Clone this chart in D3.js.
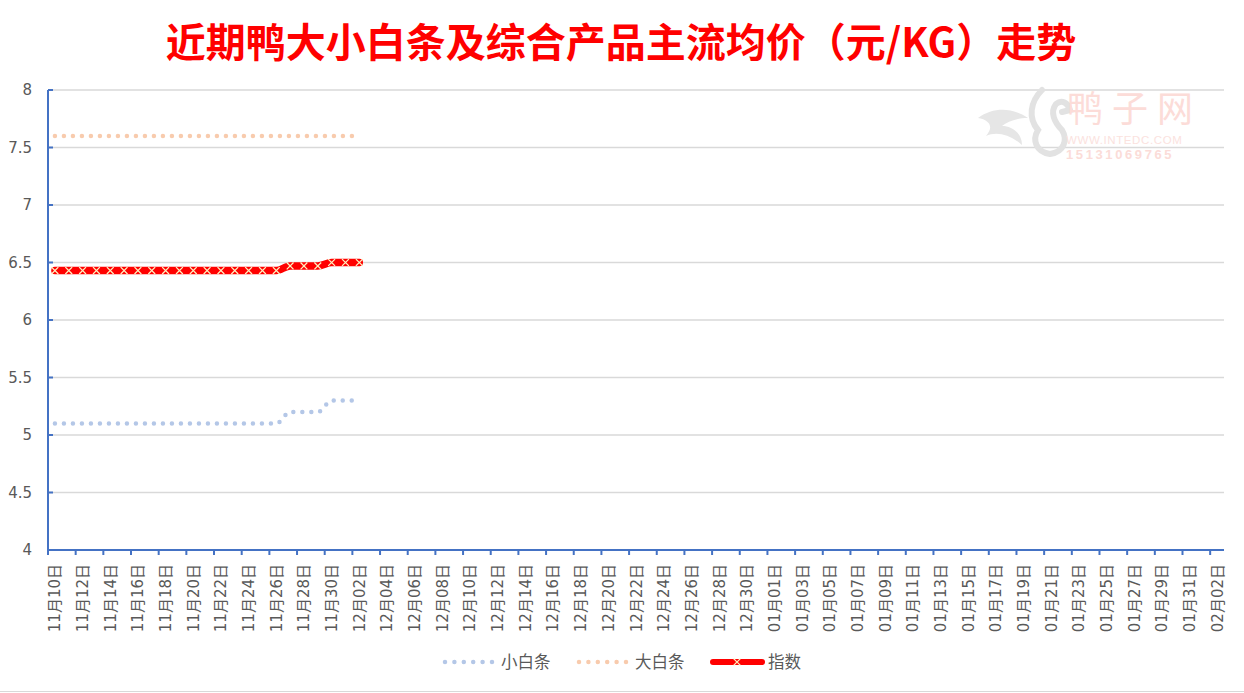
<!DOCTYPE html>
<html><head><meta charset="utf-8">
<script src="https://cdn.jsdelivr.net/npm/d3@7"></script>
<style>
html,body{margin:0;padding:0;background:#fff;}
svg{display:block;font-family:"Noto Sans CJK SC","Noto Sans",sans-serif;}
</style></head>
<body>
<svg id="chart" width="1244" height="693"></svg>
<script>
// ---- data ----
const categories = [
 "11月10日","11月11日","11月12日","11月13日","11月14日","11月15日","11月16日","11月17日","11月18日","11月19日",
 "11月20日","11月21日","11月22日","11月23日","11月24日","11月25日","11月26日","11月27日","11月28日","11月29日","11月30日",
 "12月01日","12月02日","12月03日","12月04日","12月05日","12月06日","12月07日","12月08日","12月09日","12月10日",
 "12月11日","12月12日","12月13日","12月14日","12月15日","12月16日","12月17日","12月18日","12月19日","12月20日",
 "12月21日","12月22日","12月23日","12月24日","12月25日","12月26日","12月27日","12月28日","12月29日","12月30日","12月31日",
 "01月01日","01月02日","01月03日","01月04日","01月05日","01月06日","01月07日","01月08日","01月09日","01月10日",
 "01月11日","01月12日","01月13日","01月14日","01月15日","01月16日","01月17日","01月18日","01月19日","01月20日",
 "01月21日","01月22日","01月23日","01月24日","01月25日","01月26日","01月27日","01月28日","01月29日","01月30日","01月31日",
 "02月01日","02月02日"
];
const xiaoBaiTiao = [5.1,5.1,5.1,5.1,5.1,5.1,5.1,5.1,5.1,5.1,5.1,5.1,5.1,5.1,5.1,5.1,5.1,5.2,5.2,5.2,5.3,5.3,5.3];
const daBaiTiao   = [7.6,7.6,7.6,7.6,7.6,7.6,7.6,7.6,7.6,7.6,7.6,7.6,7.6,7.6,7.6,7.6,7.6,7.6,7.6,7.6,7.6,7.6,7.6];
const zhiShu      = [6.43,6.43,6.43,6.43,6.43,6.43,6.43,6.43,6.43,6.43,6.43,6.43,6.43,6.43,6.43,6.43,6.43,6.47,6.47,6.47,6.50,6.50,6.50];
const yTicks = [4,4.5,5,5.5,6,6.5,7,7.5,8];
const seriesNames = ["小白条","大白条","指数"];
const title = "近期鸭大小白条及综合产品主流均价（元/KG）走势";

// ---- chart ----
const svg = d3.select("#chart");
const pLeft = 48, pRight = 1224, pTop = 90, pBottom = 550;
const x = d3.scaleBand().domain(categories).range([pLeft, pRight]).padding(0);
const y = d3.scaleLinear().domain([4, 8]).range([pBottom, pTop]);
const cx = c => x(c) + x.bandwidth() / 2;
const gray = "#595959", axisBlue = "#4472C4";
const numFont = "'DejaVu Sans','Noto Sans CJK SC',sans-serif";

svg.append("rect").attr("width",1244).attr("height",693).attr("fill","#fff");
svg.append("line").attr("x1",0).attr("x2",1244).attr("y1",691.5).attr("y2",691.5).attr("stroke","#D9D9D9");

// title
svg.append("text").attr("x", 621).attr("y", 57).attr("text-anchor","middle")
  .attr("fill","#FF0000").attr("font-size",40).attr("font-weight","bold").text(title);

// gridlines
svg.append("g").selectAll("line").data(yTicks.filter(t=>t>4)).join("line")
  .attr("x1", pLeft).attr("x2", pRight).attr("y1", d=>y(d)).attr("y2", d=>y(d))
  .attr("stroke","#D9D9D9").attr("stroke-width",1.3);

// watermark
const wm = svg.append("g");
wm.append("path").attr("d","M978,118 C994,106 1014,108 1028,118 C1018,118 1008,121 1002,126 C1012,126 1022,133 1022,145 C1010,134 996,131 986,136 C994,127 990,120 978,118 Z")
  .attr("fill","#E6E6E6");
wm.append("path").attr("d","M1042,90 C1030,102 1028,118 1038,130 C1032,140 1036,152 1050,154 C1064,152 1068,140 1062,130 C1054,122 1050,112 1056,104 C1062,99 1068,103 1070,110 L1062,112")
  .attr("fill","none").attr("stroke","#E2E2E2").attr("stroke-width",6).attr("stroke-linecap","round");
wm.append("text").attr("x",1067).attr("y",122).attr("font-size",36).attr("fill","#FCDCD8").attr("letter-spacing",9).text("鸭子网");
wm.append("text").attr("x",1066).attr("y",144).attr("font-size",11.5).attr("fill","#FBE2DE").attr("font-family","Liberation Sans").attr("letter-spacing",0.6).text("WWW.INTEDC.COM");
wm.append("text").attr("x",1066).attr("y",159).attr("font-size",13).attr("font-weight","bold").attr("fill","#FBDCD8").attr("letter-spacing",2.6).attr("font-family","Liberation Sans").text("15131069765");

// y axis
const yAxis = svg.append("g").attr("transform",`translate(${pLeft},0)`);
yAxis.append("line").attr("x1",0).attr("x2",0).attr("y1",pTop).attr("y2",pBottom).attr("stroke",axisBlue).attr("stroke-width",2);
yAxis.selectAll("line.t").data(yTicks).join("line").attr("class","t")
  .attr("x1",0).attr("x2",5).attr("y1",d=>y(d)).attr("y2",d=>y(d)).attr("stroke",axisBlue).attr("stroke-width",2);
yAxis.selectAll("text").data(yTicks).join("text")
  .attr("x",-16).attr("y",d=>y(d)).attr("dy","0.36em").attr("text-anchor","end")
  .attr("fill",gray).attr("font-size",15).attr("font-family",numFont).text(d=>d);

// x axis
const xAxis = svg.append("g");
xAxis.append("line").attr("x1",pLeft).attr("x2",pRight).attr("y1",pBottom).attr("y2",pBottom).attr("stroke",axisBlue).attr("stroke-width",2);
const tickCats = categories.filter((c,i)=>i%2===0);
xAxis.selectAll("line.t").data(tickCats).join("line").attr("class","t")
  .attr("x1",d=>x(d)).attr("x2",d=>x(d)).attr("y1",pBottom).attr("y2",pBottom+5).attr("stroke",axisBlue).attr("stroke-width",2);
xAxis.selectAll("text").data(tickCats).join("text")
  .attr("transform",d=>`translate(${cx(d)+5.5},${pBottom+14}) rotate(-90)`)
  .attr("text-anchor","end").attr("fill",gray).attr("font-size",15).attr("font-family",numFont).text(d=>d);

// lines
const used = categories.slice(0, zhiShu.length);
const line = d3.line().x((d,i)=>cx(used[i])).y(d=>y(d)).curve(d3.curveMonotoneX);

svg.append("path").datum(xiaoBaiTiao).attr("d",line).attr("fill","none")
  .attr("stroke","#B4C7E7").attr("stroke-width",4.5).attr("stroke-linecap","round").attr("stroke-dasharray","0 9");
svg.append("path").datum(daBaiTiao).attr("d",line).attr("fill","none")
  .attr("stroke","#F8CBAD").attr("stroke-width",4.5).attr("stroke-linecap","round").attr("stroke-dasharray","0 9");
svg.append("path").datum(zhiShu).attr("d",line).attr("fill","none")
  .attr("stroke","#FF0000").attr("stroke-width",7.5).attr("stroke-linecap","round");
const sym = d3.symbol().type(d3.symbolTimes).size(32);
svg.append("g").selectAll("path").data(zhiShu).join("path")
  .attr("d",sym).attr("transform",(d,i)=>`translate(${cx(used[i])},${y(d)})`)
  .attr("fill","none").attr("stroke","#FFF0C0").attr("stroke-width",1.3);

// legend
const lg = svg.append("g");
const ly = 662;
lg.append("line").attr("x1",445).attr("x2",492).attr("y1",ly).attr("y2",ly)
  .attr("stroke","#B4C7E7").attr("stroke-width",4.5).attr("stroke-linecap","round").attr("stroke-dasharray","0 9.4");
lg.append("text").attr("x",501).attr("y",ly).attr("dy","0.35em").attr("fill",gray).attr("font-size",16.5).text(seriesNames[0]);
lg.append("line").attr("x1",579).attr("x2",626).attr("y1",ly).attr("y2",ly)
  .attr("stroke","#F8CBAD").attr("stroke-width",4.5).attr("stroke-linecap","round").attr("stroke-dasharray","0 9.4");
lg.append("text").attr("x",635).attr("y",ly).attr("dy","0.35em").attr("fill",gray).attr("font-size",16.5).text(seriesNames[1]);
lg.append("line").attr("x1",713).attr("x2",762).attr("y1",ly).attr("y2",ly)
  .attr("stroke","#FF0000").attr("stroke-width",6).attr("stroke-linecap","round");
lg.append("path").attr("d",sym).attr("transform",`translate(737,${ly})`).attr("fill","none").attr("stroke","#FFF0C0").attr("stroke-width",1.3);
lg.append("text").attr("x",768).attr("y",ly).attr("dy","0.35em").attr("fill",gray).attr("font-size",16.5).text(seriesNames[2]);
</script>
</body></html>
